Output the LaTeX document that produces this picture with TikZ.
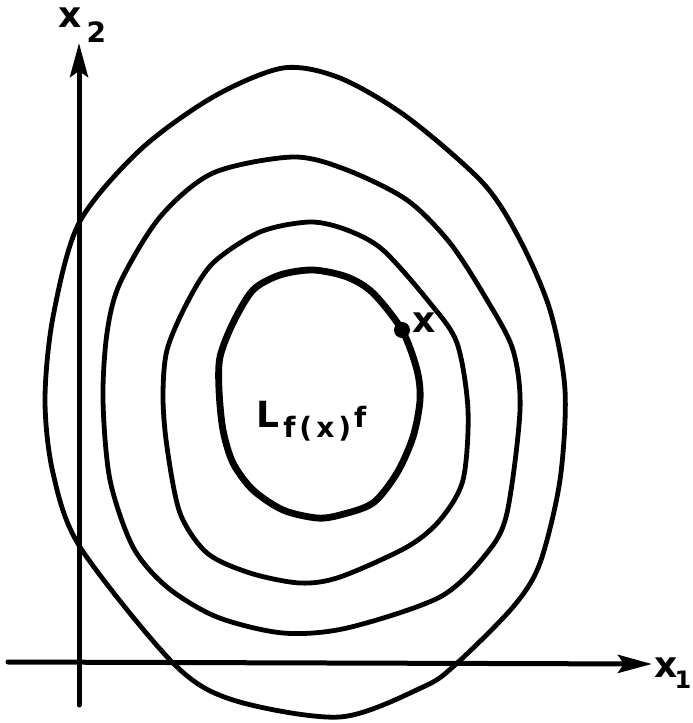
\documentclass[tikz,border=0pt]{standalone}
\usepackage{fontspec}
\setmainfont{DejaVu Sans}
\usepackage{tikz}
\usetikzlibrary{arrows.meta,positioning}

\begin{document}
\begin{tikzpicture}[x=0.5pt,y=-0.5pt,
    axis/.style={line width=2.5pt,line cap=round,-{Stealth[length=17pt,width=9pt,inset=3pt]}},
    level/.style={line width=2.4pt,line join=round},
    levelx/.style={line width=3.4pt,line join=round},
    lbl/.style={inner sep=0pt,font=\fontsize{18}{20}\selectfont\bfseries}]
    \useasboundingbox (0,0) rectangle (692,723);
    \coordinate (x1tail) at (8,662);
    \coordinate (x1tip) at (652,664);
    \coordinate (x2foot) at (79,705);
    \coordinate (x2tip) at (79,43);
    \draw[axis] (x1tail) -- (x1tip);
    \draw[axis] (x2foot) -- (x2tip);
    \node[lbl,anchor=base west] (x1) at (654,677) {x\hspace{-1.5pt}\raisebox{-5.5pt}{\fontsize{12}{13}\selectfont 1}};
    \node[lbl,anchor=base west] (x2) at (58,27) {x\hspace{2.5pt}\raisebox{-7.5pt}{\fontsize{14}{15}\selectfont 2}};
    \draw[level] plot[smooth cycle] coordinates {(283,68) (340,78) (407,117) (483,183) (520,240) (550,310) (565,390) (560,480) (540,563) (513,607) (455,665) (423,687) (340,717) (233,700) (173,663) (80,547) (53,473) (45,400) (53,317) (79,223) (140,150) (213,97)};
    \draw[level] plot[smooth cycle] coordinates {(293,157) (347,170) (407,200) (450,243) (487,300) (513,350) (520,410) (507,513) (487,553) (440,597) (347,628) (283,633) (217,617) (167,587) (133,547) (110,480) (103,400) (107,333) (120,283) (160,217) (213,173)};
    \draw[level] plot[smooth cycle] coordinates {(310,222) (347,230) (383,250) (430,303) (457,343) (468,410) (463,480) (440,520) (407,547) (340,577) (300,583) (250,573) (207,553) (180,513) (167,447) (163,397) (167,350) (187,303) (213,263) (260,232)};
    \draw[levelx] plot[smooth cycle] coordinates {(313,270) (347,277) (373,293) (402,330) (417,370) (420,400) (413,437) (397,473) (373,503) (340,515) (317,518) (283,510) (253,490) (233,463) (223,430) (219,390) (220,357) (233,323) (253,290) (280,275)};
    \node[circle,fill,inner sep=0pt,minimum size=8pt] (xpt) at (402,330) {};
    \node[lbl,anchor=base west] (xlbl) at (412,332) {x};
    \node[lbl,anchor=base west] (level) at (256,427) {L\hspace{2pt}\raisebox{-5pt}{\fontsize{14}{15}\selectfont f\hspace{2pt}(\hspace{2pt}x\hspace{2pt})}\fontsize{14}{15}\selectfont\hspace{1.5pt}f};
\end{tikzpicture}
\end{document}
